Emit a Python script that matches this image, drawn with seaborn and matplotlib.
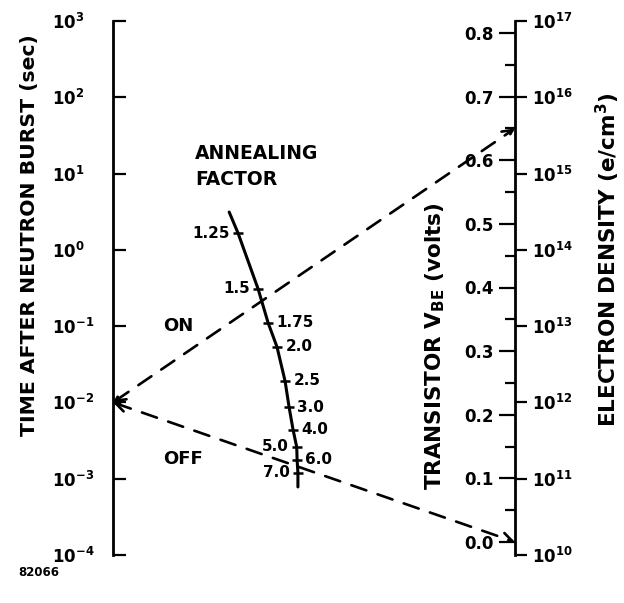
import matplotlib
matplotlib.use("Agg")
import matplotlib.pyplot as plt
import matplotlib.ticker as mticker
import numpy as np
import pandas as pd
import seaborn as sns

# ---------------- data ----------------
time_exponents = [-4, -3, -2, -1, 0, 1, 2, 3]                 # left scale, seconds (10^k)
volt_major = [0.0, 0.1, 0.2, 0.3, 0.4, 0.5, 0.6, 0.7, 0.8]    # transistor V_BE
volt_minor = [0.05, 0.15, 0.25, 0.35, 0.45, 0.55, 0.65, 0.75]
density_exponents = [10, 11, 12, 13, 14, 15, 16, 17]          # electron density (10^k)

anneal_factors = ["1.25", "1.5", "1.75", "2.0", "2.5", "3.0", "4.0", "5.0", "6.0", "7.0"]
anneal_pos = [0.311, 0.361, 0.386, 0.408, 0.428, 0.438, 0.448, 0.457, 0.458, 0.460]
anneal_time = [1.66, 0.307, 0.110, 0.0533, 0.0191, 0.0087, 0.00436, 0.00261, 0.00176, 0.00119]
anneal_side = ["left", "left", "right", "right", "right", "right", "right", "left", "right", "left"]
curve_end_pos = [0.289, 0.460]
curve_end_time = [3.13, 0.00078]

on_time, on_volts = 1e-2, 0.65
off_time, off_volts = 1e-2, 0.0

# ---------------- style ----------------
sns.set_theme(style="white")
plt.rcParams["font.family"] = ["DejaVu Sans"]
plt.rcParams["font.weight"] = "bold"
plt.rcParams["mathtext.fontset"] = "dejavusans"
plt.rcParams["mathtext.default"] = "bf"

W, H = 624, 603
fig = plt.figure(figsize=(W / 100, H / 100), dpi=100)
fig.patch.set_facecolor("white")
ax = fig.add_axes([113 / W, 48 / H, 402 / W, 534 / H])
ax.set_facecolor("white")

# left scale: time
ax.set_xlim(0, 1)
ax.set_yscale("log")
ax.set_ylim(10.0 ** time_exponents[0], 10.0 ** time_exponents[-1])
ax.yaxis.set_major_locator(mticker.FixedLocator([10.0 ** e for e in time_exponents]))
ax.yaxis.set_minor_locator(mticker.NullLocator())
ax.set_yticklabels([r"$\mathbf{10^{%d}}$" % e for e in time_exponents])
ax.set_xticks([])
for s in ["top", "bottom", "right"]:
    ax.spines[s].set_visible(False)
ax.spines["left"].set_linewidth(2.0)
ax.spines["left"].set_color("black")
ax.tick_params(axis="y", which="major", direction="in", length=9.5, width=1.6,
               color="black", pad=44, labelsize=12, labelcolor="black")
for lab in ax.get_yticklabels():
    lab.set_horizontalalignment("left")

# right scale (left side of the right line): volts
axv = ax.twinx()
vpp = 0.8 / (542 - 33)
axv.set_ylim(0.0 - (555 - 542) * vpp, 0.8 + (33 - 21) * vpp)
for s in ["top", "bottom", "right"]:
    axv.spines[s].set_visible(False)
axv.spines["left"].set_position(("axes", 1.0))
axv.spines["left"].set_linewidth(2.0)
axv.spines["left"].set_color("black")
axv.yaxis.set_ticks_position("left")
axv.yaxis.set_label_position("left")
axv.yaxis.set_major_locator(mticker.FixedLocator(volt_major))
axv.yaxis.set_minor_locator(mticker.FixedLocator(volt_minor))
axv.set_yticklabels(["%.1f" % v for v in volt_major])
axv.tick_params(axis="y", which="major", direction="out", length=11.5, width=1.6,
                color="black", pad=4, labelsize=12, labelcolor="black")
axv.tick_params(axis="y", which="minor", direction="out", length=7.2, width=1.6, color="black")
axv.set_ylabel(r"TRANSISTOR V$_{\mathbf{BE}}$ (volts)", fontsize=15.5, fontweight="bold",
               color="black")
axv.yaxis.set_label_coords(0.83, 0.391)

# far right scale: electron density
axe = ax.twinx()
axe.set_yscale("log")
axe.set_ylim(10.0 ** density_exponents[0], 10.0 ** density_exponents[-1])
for s in ["top", "bottom", "left", "right"]:
    axe.spines[s].set_visible(False)
axe.yaxis.set_major_locator(mticker.FixedLocator([10.0 ** e for e in density_exponents]))
axe.yaxis.set_minor_locator(mticker.NullLocator())
axe.set_yticklabels([r"$\mathbf{10^{%d}}$" % e for e in density_exponents])
axe.tick_params(axis="y", which="major", direction="out", length=8.6, width=1.6,
                color="black", pad=4, labelsize=12, labelcolor="black")
axe.set_ylabel(r"ELECTRON DENSITY (e/cm$^{\mathbf{3}}$)", fontsize=15.5, fontweight="bold",
               color="black", rotation=90)
axe.yaxis.set_label_coords(1.1965, 0.552)

# annealing factor curve
curve = pd.DataFrame({
    "pos": [curve_end_pos[0]] + anneal_pos + [curve_end_pos[1]],
    "time": [curve_end_time[0]] + anneal_time + [curve_end_time[1]],
})
sns.lineplot(data=curve, x="pos", y="time", sort=False, ax=ax, color="black", linewidth=2.2,
             estimator=None)
ticks = pd.DataFrame({"pos": anneal_pos, "time": anneal_time})
sns.scatterplot(data=ticks, x="pos", y="time", ax=ax, marker="_", s=60, linewidth=1.8,
                color="black", zorder=5)
for lab, x, t, side in zip(anneal_factors, anneal_pos, anneal_time, anneal_side):
    dx = -6 if side == "left" else 6
    ax.annotate(lab, xy=(x, t), xytext=(dx, 0), textcoords="offset points",
                ha="right" if side == "left" else "left", va="center",
                fontsize=11, fontweight="bold", color="black")
ax.set_xlabel("")
ax.set_ylabel("TIME AFTER NEUTRON BURST (sec)", fontsize=14.7, fontweight="bold",
              color="black")
ax.yaxis.set_label_coords(-0.184, 0.599)

# ON / OFF dashed index lines
for t0, v1 in [(on_time, on_volts), (off_time, off_volts)]:
    ax.annotate("", xy=(1.0, v1), xycoords=axv.transData,
                xytext=(0.0, t0), textcoords=ax.transData,
                arrowprops=dict(arrowstyle="<->,head_length=0.6,head_width=0.3",
                                linestyle=(0, (6, 4.5)), linewidth=1.9, color="black",
                                shrinkA=0, shrinkB=0))

ax.text(0.124, 0.429, "ON", transform=ax.transAxes, fontsize=13, fontweight="bold",
        ha="left", va="center", color="black")
ax.text(0.124, 0.18, "OFF", transform=ax.transAxes, fontsize=13, fontweight="bold",
        ha="left", va="center", color="black")
ax.text(0.204, 0.7275, "ANNEALING\nFACTOR", transform=ax.transAxes, fontsize=13.5,
        fontweight="bold", ha="left", va="center", linespacing=1.45, color="black")

fig.text(18 / W, 1 - 573 / H, "82066", fontsize=8.5, fontweight="bold", ha="left",
         va="center", color="black")

fig.savefig("out.png", dpi=100, facecolor="white")
